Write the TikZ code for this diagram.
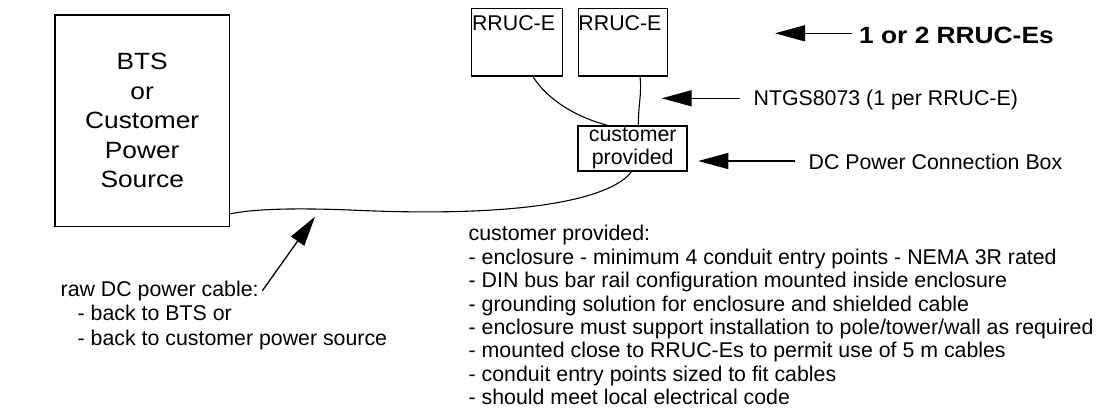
\documentclass[tikz,border=0pt]{standalone}
\usepackage{fontspec}
\setmainfont{Liberation Sans}
\newfontfamily\widesans[FakeStretch=1.12]{Liberation Sans}
\usetikzlibrary{arrows.meta,calc}

\tikzset{
  lbl/.style={inner sep=0pt, font=\fontsize{21.33}{23.8}\selectfont},
  biglbl/.style={inner sep=0pt, font=\widesans\fontsize{23.5}{29.5}\selectfont},
  unitbox/.style={draw, line width=1.3pt, inner sep=0pt},
  cable/.style={line width=1.1pt},
  ptr/.style={line width=1.3pt, -{Triangle[length=30pt,width=16pt]}},
}

\begin{document}
\begin{tikzpicture}[x=1pt,y=-1pt]
\useasboundingbox (0,0) rectangle (1105,413);

% power source
\node[unitbox, biglbl, align=center, minimum width=174.3pt, minimum height=211.7pt]
  (bts) at (142.2,120.8) {BTS\\or\\Customer\\Power\\Source};

% radio units
\node[unitbox, minimum width=90.6pt, minimum height=67.7pt] (r1) at (517,42.15) {};
\node[unitbox, minimum width=89pt, minimum height=67.7pt] (r2) at (622.8,42.15) {};
\node[lbl, anchor=base west] (r1t) at ($(r1.north west)+(0.8,22.4)$) {RRUC-E};
\node[lbl, anchor=base west] (r2t) at ($(r2.north west)+(0.6,22.4)$) {RRUC-E};

% connection box
\node[unitbox, line width=1.5pt, align=center, inner sep=0pt,
  font=\fontsize{21.33}{23.3}\selectfont,
  minimum width=109pt, minimum height=44.7pt] (cp) at (632.7,148.4) {customer\\provided};

% cables
\draw[cable] ($(r1.south)+(16,0)$) .. controls +(15,24) and +(-30,-8) .. ($(cp.north)+(-25.4,0)$);
\draw[cable] ($(r2.south)+(17.2,0)$) .. controls +(2,18) and +(0,-22) .. ($(cp.north)+(5.6,0)$);
\draw[cable] ($(cp.south)+(-1,0)$) .. controls (610,200) and (520,218) .. (350,210)
  .. controls (300,208) and (255,208.5) .. ($(bts.south east)+(0,-13.4)$);

% callouts
\coordinate (qty-tip) at (775,33.3);
\node[inner sep=0pt, font=\widesans\bfseries\fontsize{23.5}{29.5}\selectfont, anchor=base west]
  (qty) at (859,43.3) {1 or 2 RRUC-Es};
\draw[ptr] ($(qty.west |- qty-tip)+(-7.3,0)$) -- (qty-tip);

\coordinate (ntgs-tip) at (661.7,98.3);
\node[lbl, anchor=base west] (ntgs) at (753.4,105) {NTGS8073 (1 per RRUC-E)};
\draw[ptr] ($(ntgs.west |- ntgs-tip)+(-13.4,0)$) -- (ntgs-tip);

\coordinate (dcbox-tip) at (698.3,161);
\node[lbl, anchor=base west] (dcbox) at (808.4,169) {DC Power Connection Box};
\draw[ptr] ($(dcbox.west |- dcbox-tip)+(-13.4,0)$) -- (dcbox-tip);

% raw cable note
\node[lbl, anchor=base west] (raw1) at (60.5,296.7) {raw DC power cable:};
\node[lbl, anchor=base west] (raw2) at (77.5,320.7) {- back to BTS or};
\node[lbl, anchor=base west] (raw3) at (77.5,345) {- back to customer power source};
\coordinate (raw-tip) at (315,216.7);
\draw[ptr] ($(raw1.base east)+(3.5,-6)$) -- (raw-tip);

% requirements
\node[lbl, anchor=north west, align=left, font=\fontsize{21.33}{23.4}\selectfont]
  (reqs) at (468.5,225.2) {customer provided:\\
- enclosure - minimum 4 conduit entry points - NEMA 3R rated\\
- DIN bus bar rail configuration mounted inside enclosure\\
- grounding solution for enclosure and shielded cable\\
- enclosure must support installation to pole/tower/wall as required\\
- mounted close to RRUC-Es to permit use of 5 m cables\\
- conduit entry points sized to fit cables\\
- should meet local electrical code};
\end{tikzpicture}
\end{document}
